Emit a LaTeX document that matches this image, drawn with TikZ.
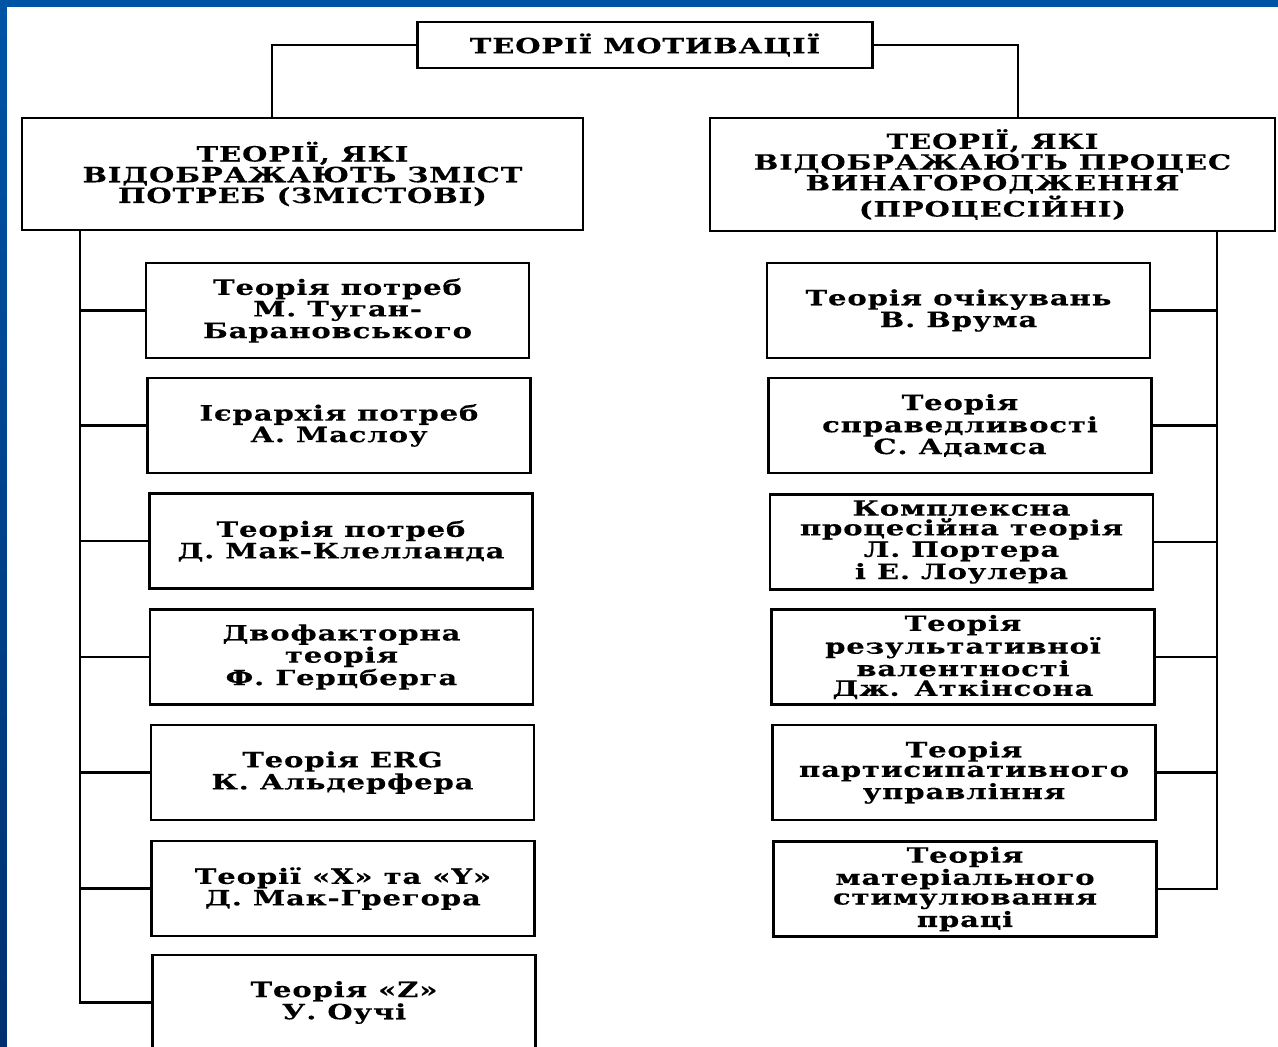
\documentclass[tikz,border=0pt]{standalone}
\usepackage{fontspec}
\newfontfamily\boxfont[FakeStretch=1.38,LetterSpace=4,FakeBold=0.3]{DejaVu Serif Bold}
\definecolor{slideblue}{RGB}{0,84,166}
\definecolor{slidedark}{RGB}{0,48,112}
\begin{document}
\begin{tikzpicture}[x=0.02cm,y=-0.02cm]
\newcommand{\boxw}{7.66cm}
\newcommand{\boxh}{1.9cm}
\newcommand{\boxtext}{\boxfont\fontsize{12}{11.2}\selectfont}
\newcommand{\headtext}{\boxfont\fontsize{12}{11.8}\selectfont}
\newcommand{\theorybox}{\node[draw, fill=white, align=center, inner sep=0pt, minimum width=\boxw, minimum height=\boxh, font=\boxtext] }
\newcommand{\headbox}{\node[draw, fill=white, align=center, inner sep=0pt, font=\headtext] }

\useasboundingbox (0,0) rectangle (1278,1047);
\fill[slideblue] (0,0) rectangle (1278,1047);
\shade[top color=slideblue, bottom color=slidedark] (0,7) rectangle (7,1047);
\fill[white] (7,7) rectangle (1278,1047);

\tikzset{every path/.style={line width=1.3pt}}

    % top level
    \headbox[minimum width=9.1cm, minimum height=0.92cm] (title) at (645,45) {ТЕОРІЇ МОТИВАЦІЇ};
    \headbox[minimum width=11.22cm, minimum height=2.24cm] (lhead) at (302.5,174) {ТЕОРІЇ, ЯКІ\\ВІДОБРАЖАЮТЬ ЗМІСТ\\ПОТРЕБ (ЗМІСТОВІ)};
    \headbox[minimum width=11.3cm, minimum height=2.26cm] (rhead) at (992.5,174.5) {ТЕОРІЇ, ЯКІ\\ВІДОБРАЖАЮТЬ ПРОЦЕС\\ВИНАГОРОДЖЕННЯ\\(ПРОЦЕСІЙНІ)};
    \coordinate (ljoin) at (272,118);
    \coordinate (rjoin) at (1018,118);
    \draw (title.west) -| (ljoin);
    \draw (title.east) -| (rjoin);

    % content theories
    \theorybox (l1) at (337.5,310.5) {Теорія потреб\\М. Туган-\\Барановського};
    \theorybox (l2) at (339,425.5) {Ієрархія потреб\\А. Маслоу};
    \theorybox (l3) at (341,541) {Теорія потреб\\Д. Мак-Клелланда};
    \theorybox (l4) at (341.5,657) {Двофакторна\\теорія\\Ф. Герцберга};
    \theorybox (l5) at (342.5,772.5) {Теорія ERG\\К. Альдерфера};
    \theorybox (l6) at (343,888.5) {Теорії «X» та «Y»\\Д. Мак-Грегора};
    \theorybox (l7) at (344,1002.5) {Теорія «Z»\\У. Оучі};
    \coordinate (lbus) at (80,230);
    \draw (lbus) |- (l1.west);
    \draw (lbus) |- (l2.west);
    \draw (lbus) |- (l3.west);
    \draw (lbus) |- (l4.west);
    \draw (lbus) |- (l5.west);
    \draw (lbus) |- (l6.west);
    \draw (lbus) |- (l7.west);

    % process theories
    \theorybox (r1) at (958.5,310.5) {Теорія очікувань\\В. Врума};
    \theorybox (r2) at (960,425.5) {Теорія\\справедливості\\С. Адамса};
    \theorybox (r3) at (961.5,542) {Комплексна\\процесійна теорія\\Л. Портера\\і Е. Лоулера};
    \theorybox (r4) at (963,657) {Теорія\\результативної\\валентності\\Дж. Аткінсона};
    \theorybox (r5) at (964,772.5) {Теорія\\партисипативного\\управління};
    \theorybox (r6) at (965,889) {Теорія\\матеріального\\стимулювання\\праці};
    \coordinate (rbus) at (1217,231);
    \draw (rbus) |- (r1.east);
    \draw (rbus) |- (r2.east);
    \draw (rbus) |- (r3.east);
    \draw (rbus) |- (r4.east);
    \draw (rbus) |- (r5.east);
    \draw (rbus) |- (r6.east);
\end{tikzpicture}
\end{document}
